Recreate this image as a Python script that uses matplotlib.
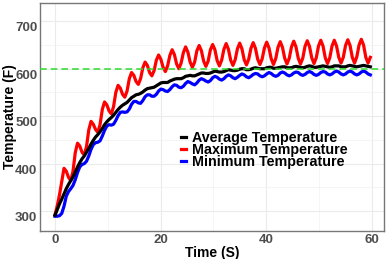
import numpy as np
import matplotlib
matplotlib.use("Agg")
import matplotlib.pyplot as plt
from matplotlib.transforms import ScaledTranslation

plt.rcParams["font.family"] = ["Liberation Sans", "DejaVu Sans"]
plt.rcParams["font.weight"] = "bold"

# sampled every ~0.43 s (six samples per oscillation)
time_s = np.arange(141) * 0.4267

max_temp = [
    292, 311, 334, 362, 390, 384, 371, 364, 384, 423,
    443, 437, 424, 418, 436, 471, 489, 483, 472, 466,
    482, 514, 530, 524, 511, 505, 520, 550, 565, 559,
    546, 540, 553, 579, 592, 586, 573, 567, 579, 602,
    614, 607, 592, 585, 596, 618, 629, 620, 603, 594,
    606, 628, 640, 630, 610, 600, 612, 634, 646, 635,
    614, 603, 614, 638, 649, 638, 616, 605, 616, 640,
    651, 640, 617, 606, 618, 641, 653, 641, 618, 607,
    619, 642, 654, 642, 619, 608, 620, 643, 655, 643,
    620, 609, 621, 644, 656, 644, 621, 609, 621, 645,
    657, 645, 622, 610, 622, 646, 658, 646, 622, 610,
    622, 647, 659, 647, 623, 611, 623, 648, 660, 648,
    623, 611, 623, 648, 660, 648, 624, 612, 624, 649,
    661, 649, 624, 612, 625, 650, 662, 650, 624, 612,
    624,
]

avg_temp = [
    291, 303, 315, 325, 336, 347, 356, 364, 372, 382,
    393, 402, 410, 416, 424, 432, 441, 449, 456, 461,
    467, 474, 482, 488, 493, 497, 502, 508, 514, 519,
    523, 526, 529, 534, 539, 542, 545, 546, 548, 551,
    555, 558, 559, 560, 561, 564, 567, 570, 571, 571,
    571, 574, 576, 578, 579, 579, 579, 581, 584, 585,
    586, 585, 585, 587, 589, 591, 591, 590, 590, 591,
    593, 595, 594, 593, 593, 594, 596, 598, 597, 596,
    596, 597, 599, 600, 600, 598, 598, 599, 601, 602,
    601, 600, 600, 600, 602, 603, 603, 601, 601, 602,
    603, 604, 604, 602, 602, 602, 604, 605, 604, 603,
    602, 603, 605, 606, 605, 603, 603, 604, 605, 606,
    605, 604, 603, 604, 606, 606, 606, 604, 604, 604,
    606, 607, 606, 605, 604, 605, 606, 607, 606, 605,
    604,
]

min_temp = [
    289, 289, 290, 295, 310, 331, 341, 347, 354, 366,
    381, 393, 398, 400, 405, 416, 430, 440, 444, 445,
    448, 458, 470, 479, 482, 481, 483, 491, 501, 508,
    509, 508, 509, 515, 525, 531, 531, 528, 527, 533,
    541, 545, 545, 542, 542, 546, 553, 557, 556, 553,
    552, 556, 562, 566, 565, 561, 560, 563, 569, 573,
    571, 568, 566, 570, 576, 579, 577, 574, 572, 575,
    581, 584, 582, 578, 576, 579, 584, 587, 585, 581,
    579, 582, 586, 589, 587, 583, 581, 584, 588, 590,
    589, 585, 583, 585, 589, 592, 590, 586, 584, 586,
    591, 593, 591, 587, 585, 587, 591, 593, 592, 588,
    586, 588, 592, 594, 592, 588, 586, 588, 592, 594,
    593, 589, 587, 589, 593, 595, 593, 589, 587, 589,
    593, 595, 593, 589, 587, 589, 593, 595, 593, 589,
    587,
]

setpoint = 600
x_ticks = [0, 20, 40, 60]
y_ticks = [300, 400, 500, 600, 700]

fig = plt.figure(figsize=(3.88, 2.59), dpi=100)
ax = fig.add_axes([40 / 388, 1 - 230.7 / 259, 344 / 388, 228 / 259])

ax.plot(time_s, max_temp, color="#FF0000", lw=2.3, label="Maximum Temperature", zorder=3)
ax.plot(time_s, min_temp, color="#0000FF", lw=2.3, label="Minimum Temperature", zorder=3)
ax.plot(time_s, avg_temp, color="black", lw=2.3, label="Average Temperature", zorder=4)
ax.axhline(setpoint, color="#2EDB2E", lw=1.1, dashes=(4.4, 2.6), zorder=5)

ax.set_xlim(-2.84, 62.33)
ax.set_ylim(258.5, 739.2)
ax.set_xticks(x_ticks)
ax.set_yticks(y_ticks)
ax.set_xticks([10, 30, 50], minor=True)
ax.set_yticks([350, 450, 550, 650], minor=True)
ax.grid(which="major", color="#EBEBEB", lw=0.8)
ax.grid(which="minor", color="#F2F2F2", lw=0.5)
ax.set_axisbelow(True)
ax.tick_params(which="both", length=0, labelsize=9.5, labelcolor="#4D4D4D")
ax.tick_params(axis="x", pad=2.5)
ax.tick_params(axis="y", pad=2.0)
for lbl in ax.get_xticklabels() + ax.get_yticklabels():
    lbl.set_fontweight("bold")
for sp in ax.spines.values():
    sp.set_color("#777777")
    sp.set_linewidth(1.0)

ax.set_xlabel("Time (S)", fontsize=10, fontweight="bold")
ax.set_ylabel("Temperature (F)", fontsize=10, fontweight="bold")
ax.xaxis.set_label_coords(0.5, -0.067)
ax.yaxis.set_label_coords(-0.068, 0.5)

handles, labels = ax.get_legend_handles_labels()
order = [2, 0, 1]
leg = ax.legend([handles[i] for i in order], [labels[i] for i in order],
                loc="upper left", bbox_to_anchor=(0.41, 0.439), frameon=False,
                handlelength=0.35, handletextpad=0.45, labelspacing=-0.12,
                borderpad=0, borderaxespad=0,
                prop={"size": 10.3, "weight": "bold"})

# y labels in the original sit a little below their grid lines
shift = ScaledTranslation(0, -5.5 / 100, fig.dpi_scale_trans)
for lbl in ax.get_yticklabels():
    lbl.set_transform(lbl.get_transform() + shift)

fig.savefig("out.png", dpi=100)
